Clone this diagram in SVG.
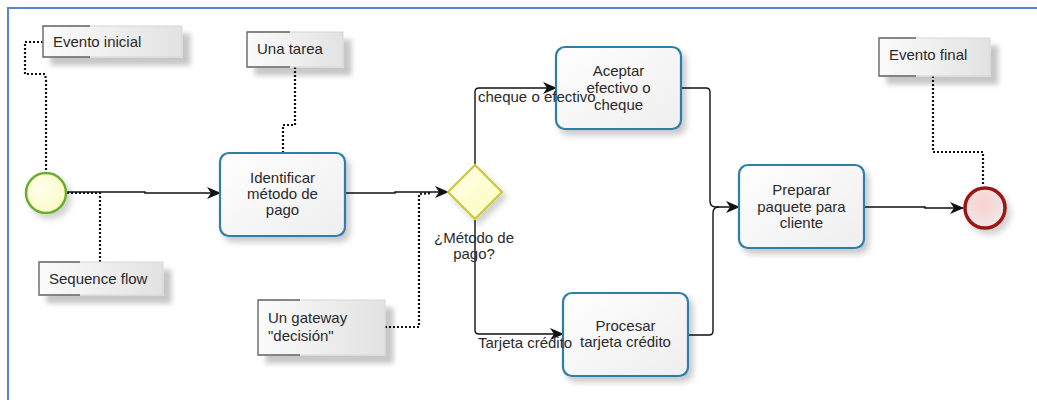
<svg xmlns="http://www.w3.org/2000/svg" width="1037" height="400" viewBox="0 0 1037 400">
  <defs>
    <style>
      text { font-family: "Liberation Sans", Arial, sans-serif; font-size: 15px; fill: #2a2a2a; }
      .mid { text-anchor: middle; }
      .task { fill: url(#taskFill); stroke: #2f7fa8; stroke-width: 2.2; filter: url(#shTask); }
      .note { fill: url(#noteFill); stroke: #d6d6d6; stroke-width: 1; filter: url(#shNote); }
      .bracket { fill: none; stroke: #666; stroke-width: 1.3; }
      .flow { fill: none; stroke: #111; stroke-width: 1.4; }
      .assoc { fill: none; stroke: #111; stroke-width: 2.2; stroke-dasharray: 2 2; }
      .frame { stroke: #5585d2; stroke-width: 2; fill: none; }
    </style>
    <linearGradient id="taskFill" x1="0" y1="0" x2="1" y2="1">
      <stop offset="0" stop-color="#ffffff"/>
      <stop offset="1" stop-color="#eeeeee"/>
    </linearGradient>
    <linearGradient id="noteFill" x1="0" y1="0" x2="1" y2="0">
      <stop offset="0" stop-color="#fbfbfb"/>
      <stop offset="1" stop-color="#e2e2e2"/>
    </linearGradient>
    <radialGradient id="startFill" cx="0.4" cy="0.4" r="0.7">
      <stop offset="0" stop-color="#ffffee"/>
      <stop offset="1" stop-color="#fafac0"/>
    </radialGradient>
    <radialGradient id="endFill" cx="0.45" cy="0.4" r="0.7">
      <stop offset="0" stop-color="#fbd0d0"/>
      <stop offset="1" stop-color="#ececec"/>
    </radialGradient>
    <linearGradient id="gwFill" x1="0" y1="0" x2="1" y2="1">
      <stop offset="0" stop-color="#ffffe8"/>
      <stop offset="1" stop-color="#fbfbbf"/>
    </linearGradient>
    <filter id="shTask" x="-20%" y="-20%" width="150%" height="150%">
      <feDropShadow dx="4" dy="5" stdDeviation="3" flood-color="#000" flood-opacity="0.22"/>
    </filter>
    <filter id="shNote" x="-20%" y="-30%" width="150%" height="180%">
      <feDropShadow dx="8" dy="8" stdDeviation="2.5" flood-color="#000" flood-opacity="0.22"/>
    </filter>
    <filter id="shEv" x="-40%" y="-40%" width="200%" height="200%">
      <feDropShadow dx="4" dy="5" stdDeviation="3" flood-color="#000" flood-opacity="0.18"/>
    </filter>
    <marker id="arrow" viewBox="0 0 14 12" markerWidth="14" markerHeight="12" refX="13" refY="6" orient="auto" markerUnits="userSpaceOnUse">
      <path d="M0,0 L14,6 L0,12 L4,6 z" fill="#111"/>
    </marker>
  </defs>

  <!-- outer frame -->
  <path class="frame" d="M8,400 L8,8 L1037,8"/>

  <!-- connectors -->
  <g id="connectors">
    <!-- sequence flows -->
    <path class="flow" d="M67,192 L145,192 L145,193 L220,193" marker-end="url(#arrow)"/>
    <path class="flow" d="M345,193 L395,193 L395,192 L448,192" marker-end="url(#arrow)"/>
    <path class="flow" d="M475,165 L475,92 Q475,88 479,88 L556,88" marker-end="url(#arrow)"/>
    <path class="flow" d="M475,220 L475,330 Q475,334 479,334 L563,334" marker-end="url(#arrow)"/>
    <path class="flow" d="M681,88 L706,88 Q710,88 710,92 L710,201 Q710,207 716,207 L739,207" marker-end="url(#arrow)"/>
    <path class="flow" d="M688,335 L709,335 Q713,335 713,331 L713,213 Q713,207 719,207"/>
    <path class="flow" d="M864,207 L925,207 L925,208 L963,208" marker-end="url(#arrow)"/>
    <!-- associations -->
    <path class="assoc" d="M43,42 L25,42 L25,74 L45,74 L46,80 L46,172"/>
    <path class="assoc" d="M295,67 L295,125 L283,125 L283,152"/>
    <path class="assoc" d="M67,193 L100,193 L100,262"/>
    <path class="assoc" d="M385,327 L419,327 L419,194 L432,193"/>
    <path class="assoc" d="M933,76 L933,152 L983,152 L983,186"/>
  </g>

  <!-- start event -->
  <g id="start">
    <circle cx="46" cy="193" r="20" fill="url(#startFill)" stroke="#6aac2e" stroke-width="2.5" filter="url(#shEv)"/>
  </g>

  <!-- tasks -->
  <g id="identificar">
    <rect class="task" x="220" y="153" width="125" height="83" rx="9"/>
    <text class="mid" x="282.5" y="183">Identificar</text>
    <text class="mid" x="282.5" y="199">método de</text>
    <text class="mid" x="282.5" y="215">pago</text>
  </g>

  <g id="gateway">
    <path d="M475,165 L502,192 L475,219 L448,192 z" fill="url(#gwFill)" stroke="#c9c838" stroke-width="2.2" filter="url(#shEv)"/>
    <text class="mid" x="474" y="243">¿Método de</text>
    <text class="mid" x="474" y="259">pago?</text>
  </g>

  <g id="aceptar">
    <rect class="task" x="556" y="47" width="125" height="82" rx="9"/>
    <text class="mid" x="618.5" y="76">Aceptar</text>
    <text class="mid" x="618.5" y="93">efectivo o</text>
    <text class="mid" x="618.5" y="110">cheque</text>
  </g>

  <g id="procesar">
    <rect class="task" x="563" y="293" width="125" height="83" rx="9"/>
    <text class="mid" x="625.5" y="331">Procesar</text>
    <text class="mid" x="625.5" y="347">tarjeta crédito</text>
  </g>

  <g id="preparar">
    <rect class="task" x="739" y="165" width="125" height="83" rx="9"/>
    <text class="mid" x="801.5" y="195">Preparar</text>
    <text class="mid" x="801.5" y="212">paquete para</text>
    <text class="mid" x="801.5" y="228">cliente</text>
  </g>

  <!-- end event -->
  <g id="end">
    <circle cx="985" cy="208" r="20" fill="url(#endFill)" stroke="#9c1416" stroke-width="3.5" filter="url(#shEv)"/>
  </g>

  <!-- flow labels, drawn over the task boxes -->
  <g id="flow-labels">
    <text x="478" y="102">cheque o efectivo</text>
    <text x="478" y="348">Tarjeta crédito</text>
  </g>

  <!-- text annotations -->
  <g id="note-evento-inicial">
    <rect class="note" x="43" y="26" width="139" height="31"/>
    <path class="bracket" d="M90,26 L43,26 L43,57 L90,57"/>
    <text x="53" y="47">Evento inicial</text>
  </g>

  <g id="note-una-tarea">
    <rect class="note" x="247" y="32" width="96" height="35"/>
    <path class="bracket" d="M290,32 L247,32 L247,67 L290,67"/>
    <text x="257" y="54">Una tarea</text>
  </g>

  <g id="note-sequence-flow">
    <rect class="note" x="39" y="262" width="124" height="33"/>
    <path class="bracket" d="M80,262 L39,262 L39,295 L80,295"/>
    <text x="49" y="284">Sequence flow</text>
  </g>

  <g id="note-gateway">
    <rect class="note" x="258" y="300" width="127" height="55"/>
    <path class="bracket" d="M300,300 L258,300 L258,355 L300,355"/>
    <text x="268" y="323">Un gateway</text>
    <text x="268" y="341">"decisión"</text>
  </g>

  <g id="note-evento-final">
    <rect class="note" x="879" y="38" width="111" height="38"/>
    <path class="bracket" d="M916,38 L879,38 L879,76 L916,76"/>
    <text x="889" y="60">Evento final</text>
  </g>
</svg>
